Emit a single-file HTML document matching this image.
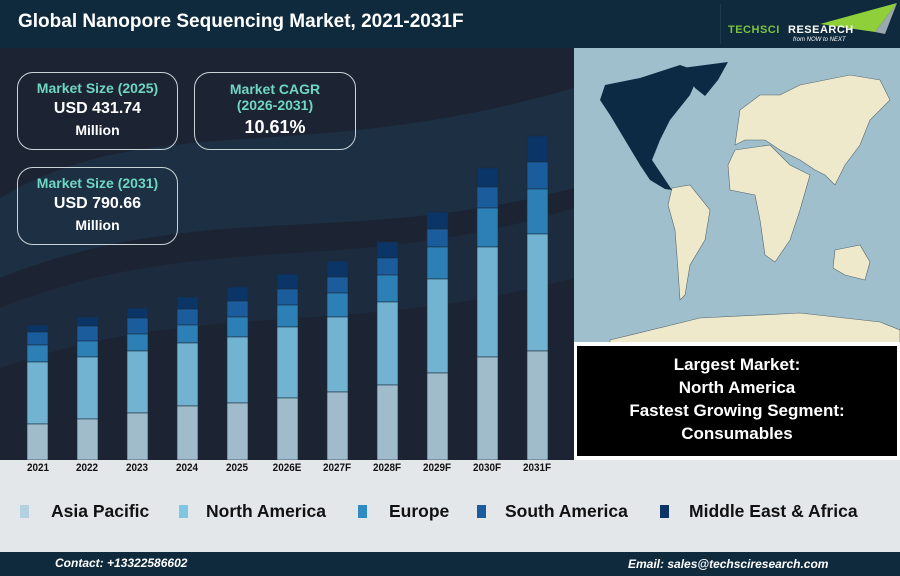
<!DOCTYPE html>
<html><head><meta charset="utf-8"><style>
*{margin:0;padding:0;box-sizing:border-box}
body{width:900px;height:576px;overflow:hidden;font-family:"Liberation Sans",Arial,sans-serif;background:#e3e7e9;position:relative}
.abs{position:absolute}
.box{position:absolute;border:1.5px solid #c9d3d8;border-radius:16px;text-align:center;color:#fff;font-weight:bold}
.box .t{color:#6fd6c2;font-size:14px}
.lbl{position:absolute;top:462px;width:50px;text-align:center;font-size:11px;font-weight:bold;color:#111;transform:scaleX(0.9)}
.leg{position:absolute;top:501px;font-size:17.5px;font-weight:bold;color:#111}
.sq{position:absolute;top:505px;width:9px;height:13px}
</style></head><body>
<div class="abs" style="left:0;top:0;width:900px;height:48px;background:#0f2a3d"></div>
<div class="abs" style="left:18px;top:11px;font-size:19px;font-weight:bold;color:#fff">Global Nanopore Sequencing Market, 2021-2031F</div>
<div class="abs" style="left:720px;top:4px;width:1px;height:40px;background:#1e3a4f"></div>
<svg class="abs" style="left:725px;top:0" width="175" height="48">
<polygon points="95,24 172,3 150,32" fill="#8fcf3a"/>
<polygon points="150,32 172,3 160,34" fill="#9aa8b0"/>
<text x="3" y="33" font-family="Liberation Sans" font-weight="bold" font-size="11" fill="#7cc242" letter-spacing="0.5">TECHSCI</text>
<text x="63" y="33" font-family="Liberation Sans" font-weight="bold" font-size="11" fill="#fff" letter-spacing="0.5">RESEARCH</text>
<text x="68" y="41" font-family="Liberation Sans" font-style="italic" font-size="6" fill="#fff">from NOW to NEXT</text>
</svg>
<svg class="abs" style="left:0;top:48px" width="574" height="412">
<rect width="574" height="412" fill="#1c2434"/>
<path d="M0,150 C150,60 300,120 574,40 L574,140 C350,200 200,150 0,230Z" fill="#1f4a68" opacity="0.3"/>
<path d="M0,260 C200,180 350,230 574,160 L574,230 C350,290 200,250 0,320Z" fill="#1f4a68" opacity="0.2"/>
</svg>
<svg class="abs" style="left:0;top:0" width="574" height="460" id="bars"></svg>
<div class="box" style="left:17px;top:72px;width:161px;height:78px;padding-top:7px"><div class="t">Market Size (2025)</div><div style="font-size:16px;margin-top:4px">USD 431.74</div><div style="font-size:14px;margin-top:4px">Million</div></div>
<div class="box" style="left:194px;top:72px;width:162px;height:78px;padding-top:8px"><div class="t" style="line-height:16px">Market CAGR<br>(2026-2031)</div><div style="font-size:18px;margin-top:4px">10.61%</div></div>
<div class="box" style="left:17px;top:167px;width:161px;height:78px;padding-top:7px"><div class="t">Market Size (2031)</div><div style="font-size:16px;margin-top:4px">USD 790.66</div><div style="font-size:14px;margin-top:4px">Million</div></div>
<svg class="abs" style="left:574px;top:48px" width="326" height="297" viewBox="574 48 326 297">
<rect x="574" y="48" width="326" height="297" fill="#a0bfcd"/>
<g fill="#efe9cc" stroke="#55676e" stroke-width="0.6">
<polygon points="672,188 690,185 710,210 705,240 690,265 685,295 680,300 678,270 675,230 668,205"/>
<polygon points="735,150 770,145 790,165 810,175 800,210 790,240 775,262 765,255 760,220 755,195 730,190 728,165"/>
<polygon points="735,145 740,110 760,95 780,95 800,85 850,75 880,80 890,100 870,120 860,145 845,165 835,185 825,175 815,170 800,160 780,150 765,140 745,140"/>
<polygon points="835,250 860,245 870,262 865,280 845,275 833,268"/>
<polygon points="610,340 700,318 800,313 880,322 900,330 900,345 610,345"/>
</g>
<g fill="#0d2a44">
<polygon points="605,85 640,78 680,65 700,72 690,95 670,120 660,140 652,160 662,175 672,190 665,189 650,180 640,165 625,140 610,115 600,100"/>
<polygon points="682,68 728,62 718,80 705,96 695,88"/>
</g>
</svg>
<div class="abs" style="left:574px;top:342px;width:326px;height:118px;background:#fff"></div>
<div class="abs" style="left:577px;top:346px;width:320px;height:110px;background:#000;color:#fff;font-weight:bold;font-size:17px;text-align:center;line-height:23px;padding-top:7px">Largest Market:<br>North America<br>Fastest Growing Segment:<br>Consumables</div>
<div class="lbl" style="left:13px">2021</div><div class="lbl" style="left:62px">2022</div><div class="lbl" style="left:112px">2023</div><div class="lbl" style="left:162px">2024</div><div class="lbl" style="left:212px">2025</div><div class="lbl" style="left:262px">2026E</div><div class="lbl" style="left:312px">2027F</div><div class="lbl" style="left:362px">2028F</div><div class="lbl" style="left:412px">2029F</div><div class="lbl" style="left:462px">2030F</div><div class="lbl" style="left:512px">2031F</div>
<div class="sq" style="left:20px;background:#b3d0e0"></div><div class="leg" style="left:51px">Asia Pacific</div>
<div class="sq" style="left:179px;background:#7ec6e2"></div><div class="leg" style="left:206px">North America</div>
<div class="sq" style="left:358px;background:#2f8bc4"></div><div class="leg" style="left:389px">Europe</div>
<div class="sq" style="left:477px;background:#1b5c9e"></div><div class="leg" style="left:505px">South America</div>
<div class="sq" style="left:660px;background:#0b3566"></div><div class="leg" style="left:689px">Middle East &amp; Africa</div>
<div class="abs" style="left:0;top:552px;width:900px;height:24px;background:#0f2a3d"></div>
<div class="abs" style="left:55px;top:556px;font-size:12px;font-weight:bold;font-style:italic;color:#fff">Contact: +13322586602</div>
<div class="abs" style="left:628px;top:557px;font-size:12px;font-weight:bold;font-style:italic;color:#fff">Email: sales@techsciresearch.com</div>
<script>
var d=[[325,332,345,362,424],[317,326,341,357,419],[308,318,334,351,413],[297,309,325,343,406],[287,301,317,337,403],[274,289,305,327,398],[261,277,293,317,392],[242,258,275,302,385],[212,229,247,279,373],[168,187,208,247,357],[136,162,189,234,351]];
var c=["#0b3566","#1a5c9c","#2c80b5","#72b3d2","#a0bccb"];
var s="";
d.forEach(function(b,i){var x=27+i*50;var y=b.concat([460]);for(var k=0;k<5;k++){s+='<rect x="'+x+'" y="'+y[k]+'" width="21" height="'+(y[k+1]-y[k])+'" fill="'+c[k]+'" stroke="#1a2a3a" stroke-width="0.6"/>';}});
document.getElementById('bars').innerHTML=s;
</script>
</body></html>
